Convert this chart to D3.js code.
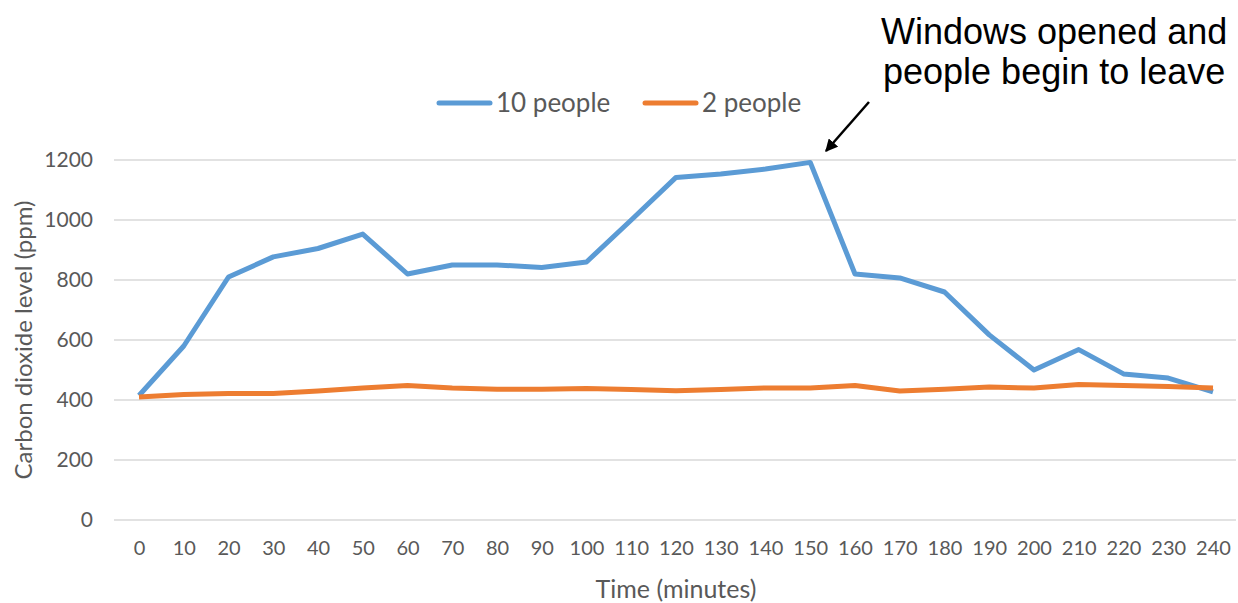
<!DOCTYPE html>
<html>
<head>
<meta charset="utf-8">
<script src="https://cdn.jsdelivr.net/npm/d3@7"></script>
<style>
  body { margin: 0; background: #fff; }
  .tick text { font-family: Lato, "Open Sans", sans-serif; fill: #595959; }
</style>
</head>
<body>
<script>
const minutes = [0, 10, 20, 30, 40, 50, 60, 70, 80, 90, 100, 110, 120, 130, 140, 150, 160, 170, 180, 190, 200, 210, 220, 230, 240];
const tenPeople = [415, 580, 810, 877, 905, 953, 820, 850, 850, 842, 860, 1000, 1142, 1153, 1170, 1192, 820, 807, 760, 617, 500, 568, 487, 473, 427];
const twoPeople = [410, 418, 422, 422, 430, 440, 448, 440, 436, 436, 438, 435, 431, 435, 440, 440, 448, 430, 436, 443, 440, 452, 448, 445, 440];
const yTicks = [0, 200, 400, 600, 800, 1000, 1200];
const seriesNames = ["10 people", "2 people"];
const colors = ["#5b9bd5", "#ed7d31"];

const width = 1238, height = 603;
const margin = {top: 160, right: 25, bottom: 83, left: 139};

const svg = d3.select('body')
  .append('svg')
  .attr('width', width)
  .attr('height', height);

const x = d3.scaleLinear()
  .domain([0, 240])
  .range([margin.left, 1213]);

const y = d3.scaleLinear()
  .domain([0, 1200])
  .range([height - margin.bottom, margin.top]);

// gridlines
svg.append("g")
  .selectAll("line")
  .data(yTicks)
  .join("line")
  .attr("x1", 114)
  .attr("x2", 1236)
  .attr("y1", d => y(d))
  .attr("y2", d => y(d))
  .attr("stroke", "#d9d9d9")
  .attr("stroke-width", 1.5);

const yAxis = d3.axisLeft(y).tickValues(yTicks).tickFormat(d3.format("d")).tickSize(0).tickPadding(0);
svg.append("g")
  .attr("transform", "translate(93,0)")
  .call(yAxis)
  .call(g => g.select(".domain").remove())
  .selectAll("text")
  .attr("font-size", 21);

const xAxis = d3.axisBottom(x).tickValues(minutes).tickSize(0).tickPadding(0);
svg.append("g")
  .attr("transform", "translate(0,541)")
  .call(xAxis)
  .call(g => g.select(".domain").remove())
  .selectAll("text")
  .attr("font-size", 20);

// series
const line = d3.line()
  .x((d, i) => x(minutes[i]))
  .y(d => y(d));

[tenPeople, twoPeople].forEach((vals, k) => {
  svg.append("path")
    .datum(vals)
    .attr("fill", "none")
    .attr("stroke", colors[k])
    .attr("stroke-width", 5)
    .attr("stroke-linejoin", "round")
    .attr("d", line);
});

// legend
const legendX = [437, 643];
seriesNames.forEach((name, k) => {
  svg.append("line")
    .attr("x1", legendX[k] + 2)
    .attr("x2", legendX[k] + 53)
    .attr("y1", 103)
    .attr("y2", 103)
    .attr("stroke", colors[k])
    .attr("stroke-width", 5)
    .attr("stroke-linecap", "round");
  svg.append("text")
    .attr("x", legendX[k] + 59)
    .attr("y", 112)
    .attr("font-family", "Lato, sans-serif")
    .attr("font-size", 26)
    .attr("fill", "#595959")
    .text(name);
});

// axis titles
svg.append("text")
  .attr("transform", "translate(32,340) rotate(-90)")
  .attr("text-anchor", "middle")
  .attr("font-family", "Lato, sans-serif")
  .attr("font-size", 24)
  .attr("fill", "#595959")
  .text("Carbon dioxide level (ppm)");

svg.append("text")
  .attr("x", 676)
  .attr("y", 598)
  .attr("text-anchor", "middle")
  .attr("font-family", "Lato, sans-serif")
  .attr("font-size", 25)
  .attr("fill", "#595959")
  .text("Time (minutes)");

// annotation
svg.append("defs").append("marker")
  .attr("id", "arrow")
  .attr("viewBox", "0 0 10 10")
  .attr("refX", 9)
  .attr("refY", 5)
  .attr("markerWidth", 5)
  .attr("markerHeight", 5)
  .attr("orient", "auto")
  .append("path")
  .attr("d", "M0,0L10,5L0,10z")
  .attr("fill", "#000");

svg.append("line")
  .attr("x1", 869)
  .attr("y1", 102)
  .attr("x2", 826)
  .attr("y2", 151)
  .attr("stroke", "#000")
  .attr("stroke-width", 2.5)
  .attr("marker-end", "url(#arrow)");

const note = svg.append("text")
  .attr("font-family", "Liberation Sans, Arial, sans-serif")
  .attr("font-size", 36)
  .attr("fill", "#000");
note.append("tspan").attr("x", 881).attr("y", 44).text("Windows opened and");
note.append("tspan").attr("x", 883).attr("y", 84).text("people begin to leave");
</script>
</body>
</html>
